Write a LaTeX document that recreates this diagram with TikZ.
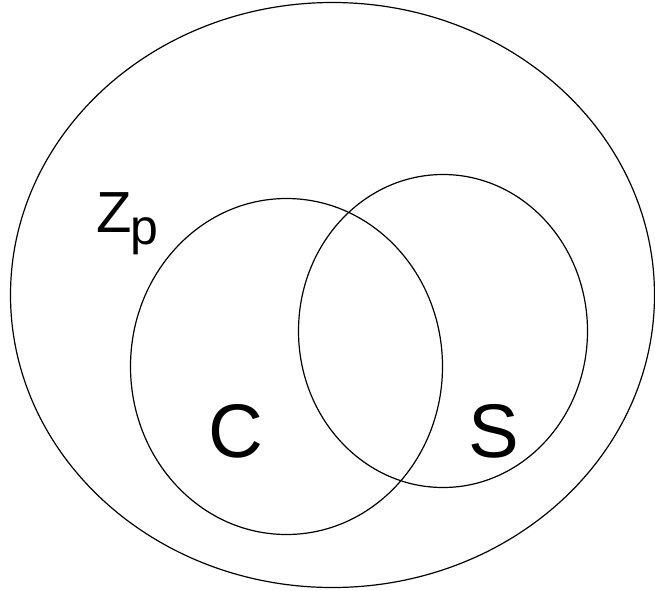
\documentclass[tikz,border=0pt]{standalone}
\usepackage{fontspec}
\setmainfont{Liberation Sans}
\begin{document}
\begin{tikzpicture}[x=1pt,y=-1pt,
  setline/.style={draw=black,line width=1.2pt},
  lbl/.style={anchor=base west,inner sep=0pt,outer sep=0pt}]
\useasboundingbox (0,0) rectangle (655,590);
\draw[setline] (332.5,295) ellipse [x radius=322, y radius=292.5];
\draw[setline] (286.5,366.5) ellipse [x radius=156, y radius=168];
\draw[setline] (443,331) ellipse [x radius=144.5, y radius=156.5];
\node[lbl,font=\fontsize{58}{58}\selectfont] (z) at (96,232) {Z};
\node[lbl,font=\fontsize{50}{50}\selectfont] (p) at (130,244) {p};
\node[lbl,font=\fontsize{76}{76}\selectfont] (c) at (208,457) {C};
\node[lbl,font=\fontsize{76}{76}\selectfont] (s) at (468,457) {S};
\end{tikzpicture}
\end{document}
